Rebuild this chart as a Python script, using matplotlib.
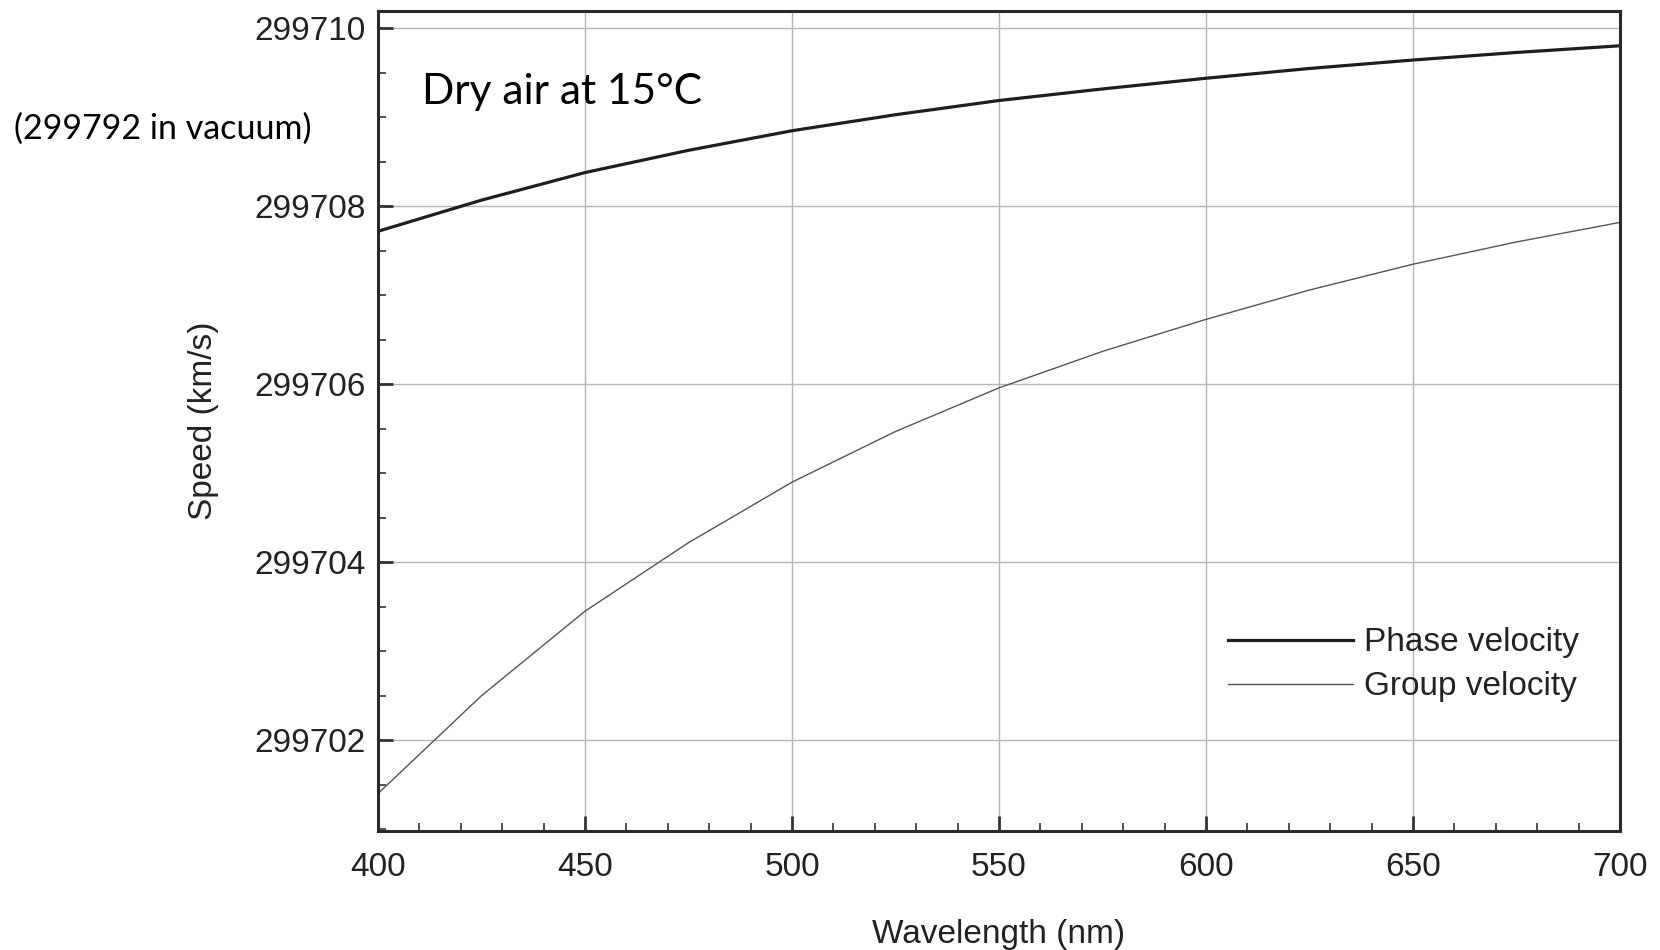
import matplotlib
matplotlib.use('Agg')
import matplotlib.pyplot as plt
from matplotlib.ticker import MultipleLocator, ScalarFormatter

# wavelength (nm) and speeds (km/s)
wavelength = [400, 425, 450, 475, 500, 525, 550, 575, 600, 625, 650, 675, 700]
phase_vel = [299707.72, 299708.07, 299708.38, 299708.63, 299708.85, 299709.03, 299709.19,
             299709.32, 299709.44, 299709.55, 299709.645, 299709.73, 299709.805]
group_vel = [299701.40, 299702.50, 299703.45, 299704.22, 299704.90, 299705.47, 299705.96,
             299706.37, 299706.73, 299707.06, 299707.35, 299707.60, 299707.82]

plt.rcParams['font.family'] = ['Liberation Sans', 'DejaVu Sans']

fig = plt.figure(figsize=(16.6, 9.5), dpi=100)
ax = fig.add_axes([0.2277, 0.1253, 0.9759 - 0.2277, 0.9888 - 0.1253])

ax.plot(wavelength, phase_vel, color='#1e1e1e', lw=2.3, label='Phase velocity')
ax.plot(wavelength, group_vel, color='#555555', lw=1.0, label='Group velocity')

ax.set_xlim(400, 700)
ax.set_ylim(299700.98, 299710.2)
ax.xaxis.set_major_locator(MultipleLocator(50))
ax.xaxis.set_minor_locator(MultipleLocator(10))
ax.yaxis.set_major_locator(MultipleLocator(2))
ax.yaxis.set_minor_locator(MultipleLocator(0.5))
ax.yaxis.set_major_formatter(ScalarFormatter(useOffset=False))

ax.grid(True, which='major', color='#b5b5b5', lw=1.0)
ax.tick_params(which='both', direction='in', colors='#333333', labelcolor='#222222')
ax.tick_params(which='major', length=11, width=2, labelsize=24)
ax.tick_params(axis='x', which='major', pad=15)
ax.tick_params(axis='y', which='major', pad=9)
ax.tick_params(which='minor', length=6, width=1.2)
for s in ax.spines.values():
    s.set_linewidth(2.2)
    s.set_color('#2a2a2a')

ax.set_xlabel('Wavelength (nm)', fontsize=24, color='#222222', labelpad=26)
ax.set_ylabel('Speed (km/s)', fontsize=24, color='#222222', labelpad=25)

ax.legend(loc='center left', bbox_to_anchor=(0.7398, 0.300), bbox_transform=fig.transFigure,
          frameon=False, fontsize=24, handlelength=3.75, handletextpad=0.32,
          borderpad=0, borderaxespad=0, labelspacing=0.39, labelcolor='#222222')

fig.text(0.254, 0.9036, 'Dry air at 15°C', fontsize=30.5, family='Lato', va='center', ha='left')
fig.text(0.0085, 0.865, '(299792 in vacuum)', fontsize=24.5, family='Lato', va='center', ha='left')

fig.savefig('out.png', dpi=100)
